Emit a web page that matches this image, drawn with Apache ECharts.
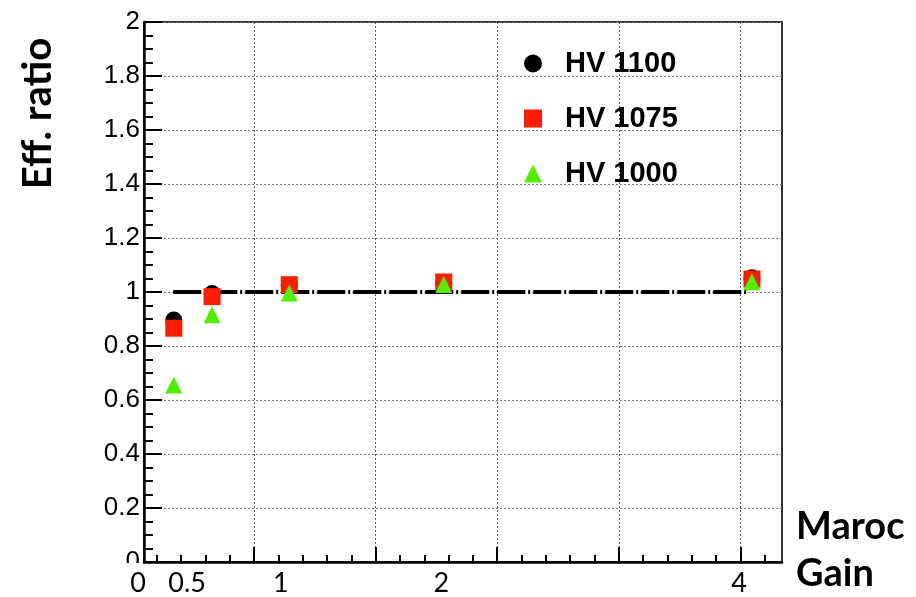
<!DOCTYPE html>
<html><head><meta charset="utf-8">
<script src="https://cdn.jsdelivr.net/npm/echarts@6.0.0/dist/echarts.min.js"></script>
<style>html,body{margin:0;padding:0;background:#fff}#c{width:916px;height:597px}</style>
</head><body><div id="c"></div>
<script>
// ---- data (x in raw MAROC gain units of the original frame) ----
const gainX  = [34, 65.5, 129, 256, 509.5];
const hv1100 = [0.896, 0.994, 1.025, 1.035, 1.053];
const hv1075 = [0.866, 0.983, 1.027, 1.037, 1.048];
const hv1000 = [0.656, 0.916, 0.996, 1.028, 1.038];
const seriesNames = ['HV 1100', 'HV 1075', 'HV 1000'];
const refLevel = 1;
const refRange = [33.5, 505];
// ---- axes ----
const xMin = 9.5, xMax = 534.2;
const xMajorTicks = [100, 200, 300, 400, 500];
const xMinorTicks = [20, 40, 60, 80, 120, 140, 160, 180, 220, 240, 260, 280, 320, 340, 360, 380, 420, 440, 460, 480, 520];
const xTickLabels = ['0', '0.5', '1', '2', '4'];
const xTickLabelPos = [xMin, 45, 122, 254, 499];
const yMin = 0, yMax = 2, yStep = 0.2;

const chart = echarts.init(document.getElementById('c'), null, {renderer: 'canvas'});
const pts = arr => gainX.map((x, i) => [x, arr[i]]);
const axisBase = {type: 'value', min: xMin, max: xMax, position: 'bottom'};

chart.setOption({
  animation: false,
  backgroundColor: '#fff',
  grid: {left: 144, top: 22, right: 134, bottom: 35, show: true, borderColor: '#333', borderWidth: 2,
         containLabel: false, outerBoundsMode: 'none'},
  legend: {
    orient: 'vertical', left: 519, top: 44, itemWidth: 18, itemHeight: 18, itemGap: 26,
    selectedMode: false,
    textStyle: {fontFamily: 'Liberation Sans', fontWeight: 'bold', fontSize: 29, color: '#000', padding: [0, 0, 0, 18]},
    data: seriesNames
  },
  xAxis: [
    Object.assign({}, axisBase, {
      axisLine: {show: true, onZero: false, lineStyle: {color: '#000', width: 2.5}},
      axisTick: {show: true, inside: true, length: 15, customValues: xMajorTicks, lineStyle: {color: '#000', width: 2}},
      axisLabel: {show: false},
      splitLine: {show: true, lineStyle: {color: '#555', type: [2, 2], width: 1}}
    }),
    Object.assign({}, axisBase, {
      axisLine: {show: false},
      axisTick: {show: true, inside: true, length: 7, customValues: xMinorTicks, lineStyle: {color: '#000', width: 2}},
      axisLabel: {show: false},
      splitLine: {show: false}
    }),
    Object.assign({}, axisBase, {
      axisLine: {show: false},
      axisTick: {show: false},
      splitLine: {show: false},
      axisLabel: {
        show: true, customValues: xTickLabelPos, margin: 8,
        fontFamily: 'Lato', fontSize: 27, color: '#000',
        formatter: function (v) {
          let k = 0, best = Infinity;
          xTickLabelPos.forEach((p, i) => { if (Math.abs(p - v) < best) { best = Math.abs(p - v); k = i; } });
          return k === 0 ? '{z|' + xTickLabels[k] + '}' : xTickLabels[k];
        },
        rich: {z: {fontFamily: 'Lato', fontSize: 27, color: '#000', padding: [0, 12, 0, 0]}}
      },
      name: '{a|Maroc}\n{a|Gain}\n{s| }', nameLocation: 'end', nameGap: 14,
      nameTextStyle: {
        align: 'left', color: '#000',
        rich: {
          a: {fontFamily: 'Lato', fontWeight: 'bold', fontSize: 38, lineHeight: 47, color: '#000'},
          s: {fontSize: 10, lineHeight: 24}
        }
      }
    })
  ],
  yAxis: {
    type: 'value', min: yMin, max: yMax, interval: yStep,
    axisLine: {show: true, lineStyle: {color: '#000', width: 2.5}},
    axisTick: {show: true, inside: true, length: 18, lineStyle: {color: '#000', width: 2}},
    minorTick: {show: true, splitNumber: 4, length: 9, lineStyle: {color: '#000', width: 2}},
    axisLabel: {fontFamily: 'Liberation Sans', fontSize: 26, color: '#000', margin: 4},
    splitLine: {show: true, lineStyle: {color: '#777', type: [2, 2], width: 1}},
    name: 'Eff. ratio', nameLocation: 'middle', nameGap: 86, nameRotate: 90,
    nameTextStyle: {fontFamily: 'Lato', fontWeight: 'bold', fontSize: 40, color: '#000', padding: [0, 0, 0, 357]}
  },
  graphic: [
    {type: 'rect', shape: {x: 100, y: 563, width: 43, height: 9}, style: {fill: '#fff'}, z: 100, silent: true}
  ],
  series: [
    {type: 'line', data: refRange.map(x => [x, refLevel]), symbol: 'none', silent: true, z: 1,
     lineStyle: {color: '#000', width: 4, type: [28, 3, 2, 3]}},
    {type: 'scatter', name: seriesNames[0], data: pts(hv1100), symbol: 'circle', symbolSize: 17, z: 2, itemStyle: {color: '#000', opacity: 1}},
    {type: 'scatter', name: seriesNames[1], data: pts(hv1075), symbol: 'rect', symbolSize: 17, z: 3, itemStyle: {color: '#fa1e00', opacity: 1}},
    {type: 'scatter', name: seriesNames[2], data: pts(hv1000), symbol: 'triangle', symbolSize: 17, z: 4, itemStyle: {color: '#52ef00', opacity: 1}}
  ]
});
</script></body></html>
